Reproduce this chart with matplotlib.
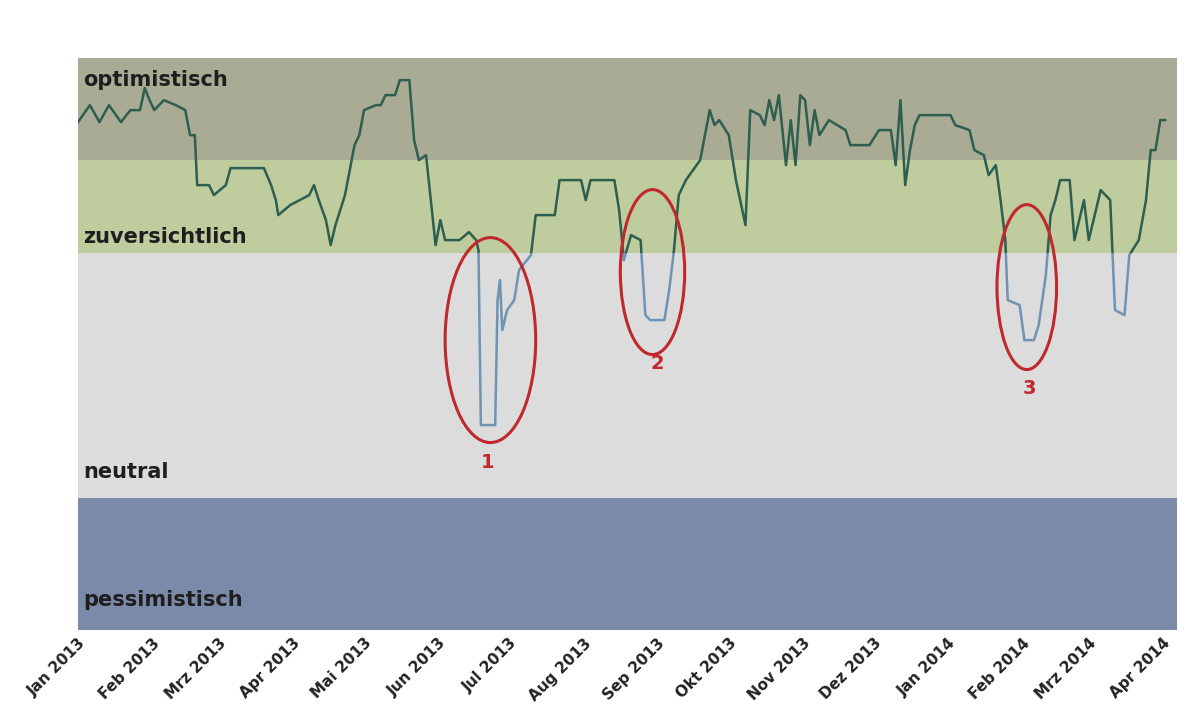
import matplotlib
matplotlib.use("Agg")
import matplotlib.pyplot as plt
from matplotlib.patches import Ellipse, Rectangle

# days since 1 Jan 2013
days = [0,5,9,13,18,22,26,28,30,32,36,41,45,47,49,50,55,57,62,64,78,81,83,84,89,93,97,99,101,104,106,108,112,114,116,118,120,125,127,129,133,135,139,141,143,146,148,150,152,154,160,164,167,168,169,173,175,176,177,178,180,183,185,190,192,200,202,211,213,215,225,227,229,232,236,238,240,246,248,250,252,255,261,265,267,269,273,276,280,282,286,288,290,292,294,297,299,301,303,305,307,309,311,315,322,324,332,336,341,343,345,347,349,351,353,366,368,374,376,380,382,385,387,389,390,395,397,401,403,406,408,410,412,416,418,420,422,424,429,433,435,439,441,445,448,450,452,454,456]
py = [122,105,122,105,122,110,110,88,100,110,100,105,110,135,135,185,185,195,185,168,168,185,200,215,205,200,195,185,200,220,245,225,195,170,145,135,110,105,105,95,95,80,80,140,160,155,200,245,220,240,240,232,240,250,425,425,425,300,280,330,310,300,270,255,215,215,180,180,200,180,180,210,260,235,240,315,320,320,290,250,195,180,160,110,125,120,135,180,225,110,115,125,100,120,95,165,120,165,95,100,145,110,135,120,130,145,145,130,130,165,100,185,150,125,115,115,125,130,150,155,175,165,200,240,300,305,340,340,325,275,215,200,180,180,240,220,200,240,190,200,310,315,255,240,200,150,150,120,120]
values = [630 - p for p in py]

bands = [(0, 132, "#7b8aa8", "pessimistisch"), (132, 377, "#dcdcdc", "neutral"),
         (377, 470, "#bfcc9e", "zuversichtlich"), (470, 572, "#a9ab94", "optimistisch")]
label_y = [30, 158, 393, 550]
month_days = [0,31,59,90,120,151,181,212,243,273,304,334,365,396,424,455]
month_labels = ["Jan 2013","Feb 2013","Mrz 2013","Apr 2013","Mai 2013","Jun 2013","Jul 2013",
                "Aug 2013","Sep 2013","Okt 2013","Nov 2013","Dez 2013","Jan 2014","Feb 2014",
                "Mrz 2014","Apr 2014"]
ellipses = [(173, 290, 38, 205), (241, 358, 27, 165), (398, 343, 25, 165)]
nums = [("1", 172, 168), ("2", 243, 267), ("3", 399, 242)]

fig = plt.figure(figsize=(12, 7.23), dpi=100)
ax = fig.add_axes([0.065, 0.1286, 0.9158, 0.791])
XMAX = 461
ax.set_xlim(0, XMAX)
ax.set_ylim(0, 572)
for (lo, hi, c, lab), ly in zip(bands, label_y):
    ax.axhspan(lo, hi, color=c, zorder=0, lw=0)
    ax.text(2, ly, lab, fontsize=15, fontweight="bold", color="#1e1e1e", va="center", ha="left", zorder=5)

thr = 377
l1, = ax.plot(days, values, color="#2e5e50", lw=1.8, zorder=3)
l1.set_clip_path(Rectangle((0, thr), XMAX, 572 - thr, transform=ax.transData))
l2, = ax.plot(days, values, color="#6f93b3", lw=1.8, zorder=3)
l2.set_clip_path(Rectangle((0, 0), XMAX, thr, transform=ax.transData))

for cx, cy, w, h in ellipses:
    ax.add_patch(Ellipse((cx, cy), w, h, fill=False, ec="#c0282d", lw=2.2, zorder=4))
for t, x, y in nums:
    ax.text(x, y, t, color="#c0282d", fontsize=14, fontweight="bold", ha="center", va="center")

ax.set_yticks([])
ax.set_xticks(month_days)
ax.set_xticklabels(month_labels, rotation=45, ha="right", rotation_mode="anchor",
                   fontsize=11, fontweight="bold", color="#222222")
ax.tick_params(axis="x", length=0, pad=4)
for s in ax.spines.values():
    s.set_visible(False)
fig.savefig("out.png", dpi=100, facecolor="white")
